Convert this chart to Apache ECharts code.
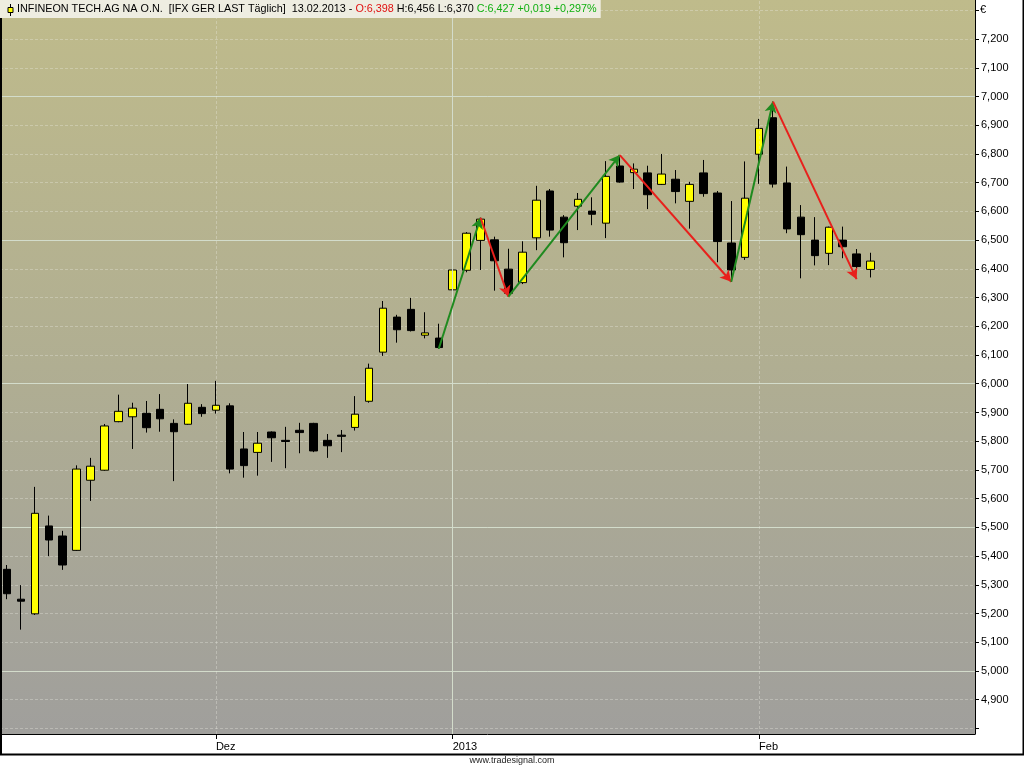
<!DOCTYPE html>
<html>
<head>
<meta charset="utf-8">
<script src="https://cdn.jsdelivr.net/npm/echarts@6/dist/echarts.min.js"></script>
<style>
html,body{margin:0;padding:0;background:#fff;}
#chart{width:1024px;height:768px;}
</style>
</head>
<body>
<div id="chart"></div>
<script>
// Trading days (category axis), incl. empty future slots at the right
const dates = [
  '2012-11-12','2012-11-13','2012-11-14','2012-11-15','2012-11-16',
  '2012-11-19','2012-11-20','2012-11-21','2012-11-22','2012-11-23',
  '2012-11-26','2012-11-27','2012-11-28','2012-11-29','2012-11-30',
  '2012-12-03','2012-12-04','2012-12-05','2012-12-06','2012-12-07',
  '2012-12-10','2012-12-11','2012-12-12','2012-12-13','2012-12-14',
  '2012-12-17','2012-12-18','2012-12-19','2012-12-20','2012-12-21',
  '2012-12-27','2012-12-28',
  '2013-01-02','2013-01-03','2013-01-04',
  '2013-01-07','2013-01-08','2013-01-09','2013-01-10','2013-01-11',
  '2013-01-14','2013-01-15','2013-01-16','2013-01-17','2013-01-18',
  '2013-01-21','2013-01-22','2013-01-23','2013-01-24','2013-01-25',
  '2013-01-28','2013-01-29','2013-01-30','2013-01-31','2013-02-01',
  '2013-02-04','2013-02-05','2013-02-06','2013-02-07','2013-02-08',
  '2013-02-11','2013-02-12','2013-02-13',
  '2013-02-14','2013-02-15','2013-02-18','2013-02-19','2013-02-20','2013-02-21','2013-02-22'
];

const openVals  = [5.354,5.250,5.199,5.505,5.470,5.420,5.664,5.699,5.868,5.885,5.897,5.911,5.862,5.859,5.918,
  5.908,5.923,5.773,5.761,5.832,5.803,5.838,5.862,5.803,5.821,5.848,5.939,6.110,6.232,6.259,6.169,6.159,
  6.327,6.395,6.499,6.501,6.399,6.352,6.508,6.671,6.580,6.618,6.601,6.559,6.758,6.735,6.734,6.694,6.712,6.635,
  6.734,6.664,6.490,6.440,6.799,6.926,6.699,6.580,6.500,6.454,6.500,6.452,6.398];
const highVals  = [5.369,5.299,5.641,5.541,5.488,5.716,5.742,5.860,5.962,5.934,5.940,5.964,5.876,5.999,5.929,
  6.010,5.932,5.832,5.832,5.834,5.850,5.864,5.864,5.825,5.839,5.957,6.070,6.288,6.240,6.299,6.249,6.209,
  6.399,6.528,6.578,6.512,6.470,6.496,6.689,6.678,6.587,6.664,6.649,6.775,6.793,6.767,6.759,6.800,6.744,6.703,
  6.779,6.671,6.636,6.774,6.922,6.982,6.756,6.622,6.580,6.547,6.547,6.469,6.456];
const lowVals   = [5.250,5.144,5.195,5.400,5.352,5.418,5.592,5.697,5.866,5.773,5.830,5.833,5.661,5.857,5.885,
  5.896,5.688,5.673,5.680,5.728,5.706,5.758,5.762,5.742,5.762,5.837,5.934,6.097,6.143,6.182,6.158,6.122,
  6.280,6.388,6.396,6.324,6.305,6.347,6.465,6.512,6.440,6.535,6.552,6.507,6.700,6.678,6.608,6.692,6.628,6.540,
  6.651,6.423,6.355,6.431,6.696,6.683,6.524,6.367,6.412,6.413,6.437,6.390,6.370];
const closeVals = [5.269,5.243,5.549,5.456,5.369,5.703,5.713,5.853,5.904,5.915,5.847,5.878,5.833,5.932,5.896,
  5.925,5.703,5.715,5.793,5.812,5.799,5.830,5.766,5.784,5.817,5.894,6.054,6.263,6.188,6.185,6.177,6.126,
  6.396,6.524,6.573,6.428,6.315,6.458,6.639,6.535,6.491,6.642,6.590,6.722,6.702,6.747,6.658,6.730,6.669,6.694,
  6.662,6.495,6.396,6.646,6.889,6.695,6.539,6.519,6.446,6.545,6.477,6.408,6.427];

// Hand-drawn trend arrows: [fromIndex, fromValue, toIndex, toValue]
const trendArrows = [
  [31, 6.122, 34, 6.578],
  [34, 6.578, 36, 6.303],
  [36, 6.303, 44, 6.796],
  [44, 6.796, 52, 6.355],
  [52, 6.355, 55, 6.982],
  [55, 6.982, 61, 6.364]
];

// Time axis labels
const timeLabelIndex = [15, 32, 54];
const timeLabelText  = ['Dez', '2013', 'Feb'];
const timeGridSolid  = [false, true, false];

const titleName = 'INFINEON TECH.AG NA O.N.  [IFX GER LAST Täglich]  13.02.2013 - ';
const titleOpen = 'O:6,398';
const titleMid  = ' H:6,456 L:6,370 ';
const titleClose = 'C:6,427 +0,019 +0,297%';

const candleData = openVals.map((o, i) => [o, closeVals[i], lowVals[i], highVals[i]]);

const chart = echarts.init(document.getElementById('chart'), null, {renderer: 'canvas'});
const FONT = 'Liberation Sans';
const TF = 10.8;

const vGrid = timeLabelIndex.map((idx, k) => ({
  xAxis: dates[idx],
  lineStyle: timeGridSolid[k]
    ? {type: 'solid', color: '#d3dccb', width: 1}
    : {type: [3, 2], color: 'rgba(235,235,225,0.35)', width: 1}
}));

const arrowLines = trendArrows.map(a => [
  {coord: [dates[a[0]], a[1]], symbol: 'none',
   lineStyle: {color: a[3] > a[1] ? '#1f8a1f' : '#e8201c', width: 2, type: 'solid'}},
  {coord: [dates[a[2]], a[3]], symbol: 'arrow'}
]);

const option = {
  animation: false,
  backgroundColor: '#ffffff',
  title: {
    left: 0, top: 0,
    padding: [3, 4, 3, 17],
    backgroundColor: '#eeede1',
    text: '{k|' + titleName + '}{r|' + titleOpen + '}{k|' + titleMid + '}{g|' + titleClose + '}',
    textStyle: {
      fontFamily: FONT, fontSize: TF, fontWeight: 'normal', lineHeight: 12,
      rich: {
        k: {color: '#000000', fontFamily: FONT, fontSize: TF},
        r: {color: '#e01010', fontFamily: FONT, fontSize: TF},
        g: {color: '#10b010', fontFamily: FONT, fontSize: TF}
      }
    }
  },
  grid: {
    left: 0, right: 49, top: 0, bottom: 34,
    show: true,
    backgroundColor: {
      type: 'linear', x: 0, y: 0, x2: 0, y2: 1,
      colorStops: [
        {offset: 0, color: '#bfbb8b'},
        {offset: 0.5, color: '#b0ae92'},
        {offset: 1, color: '#a09f9c'}
      ]
    },
    borderWidth: 0
  },
  xAxis: {
    type: 'category',
    data: dates,
    boundaryGap: true,
    axisLine: {show: true, lineStyle: {color: '#000', width: 1}},
    axisTick: {
      show: true, alignWithLabel: true, length: 5,
      interval: (idx) => timeLabelIndex.includes(idx),
      lineStyle: {color: '#000'}
    },
    axisLabel: {
      show: true,
      interval: (idx) => timeLabelIndex.includes(idx),
      formatter: (val, idx) => {
        const k = timeLabelIndex.indexOf(idx);
        return k >= 0 ? timeLabelText[k] : '';
      },
      align: 'left', margin: 7,
      fontFamily: FONT, fontSize: 11, color: '#000'
    },
    splitLine: {show: false}
  },
  yAxis: [
    {
      type: 'value', position: 'right', scale: true,
      min: 4.7807, max: 7.3359,
      splitNumber: 25, minInterval: 0.1, maxInterval: 0.1,
      axisLine: {show: true, lineStyle: {color: '#000'}},
      axisTick: {show: true, length: 4, lineStyle: {color: '#000'}},
      axisLabel: {
        show: true, margin: 6, fontFamily: FONT, fontSize: 11, color: '#000',
        showMinLabel: false, showMaxLabel: false,
        formatter: (v) => (v < 4.85 || v > 7.25) ? '' : v.toFixed(3).replace('.', ',')
      },
      splitLine: {
        show: true, showMinLine: false, showMaxLine: false,
        lineStyle: {type: [3, 2], color: 'rgba(235,235,225,0.35)', width: 1}
      }
    },
    {
      type: 'value', position: 'right', scale: true,
      min: 4.7807, max: 7.3359,
      splitNumber: 5, minInterval: 0.5, maxInterval: 0.5,
      axisLine: {show: false}, axisTick: {show: false}, axisLabel: {show: false},
      splitLine: {
        show: true, showMinLine: false, showMaxLine: false,
        lineStyle: {type: 'solid', color: '#d3dccb', width: 1}
      }
    }
  ],
  series: [
    {
      type: 'line', data: [], z: 1, silent: true,
      markLine: {symbol: ['none', 'none'], silent: true, label: {show: false}, data: vGrid}
    },
    {
      type: 'candlestick', name: 'IFX', z: 3,
      data: candleData,
      barWidth: 8,
      itemStyle: {
        color: '#ffff00', color0: '#000000',
        borderColor: '#000000', borderColor0: '#000000', borderColorDoji: '#000000',
        borderWidth: 1
      },
      markLine: {
        silent: true, symbolSize: [9, 11], label: {show: false},
        lineStyle: {width: 2, type: 'solid'},
        data: arrowLines
      }
    }
  ],
  graphic: [
    {type: 'line', z: 100, shape: {x1: 10.5, y1: 4, x2: 10.5, y2: 16}, style: {stroke: '#000', lineWidth: 1}},
    {type: 'rect', z: 101, shape: {x: 8, y: 7.5, width: 5, height: 5}, style: {fill: '#ffff00', stroke: '#000', lineWidth: 1}},
    {type: 'text', z: 100, left: 980, top: 4, style: {text: '€', font: '11px "Liberation Sans"', fill: '#000'}},
    {type: 'text', z: 100, left: 'center', top: 756, style: {text: 'www.tradesignal.com', font: '9px "Liberation Sans"', fill: '#222'}},
    {type: 'polyline', z: 100, shape: {points: [[1, 18], [1, 754.5], [1023.5, 754.5], [1023.5, 0]]}, style: {stroke: '#000', lineWidth: 2, fill: null}}
  ]
};

chart.setOption(option);
</script>
</body>
</html>
